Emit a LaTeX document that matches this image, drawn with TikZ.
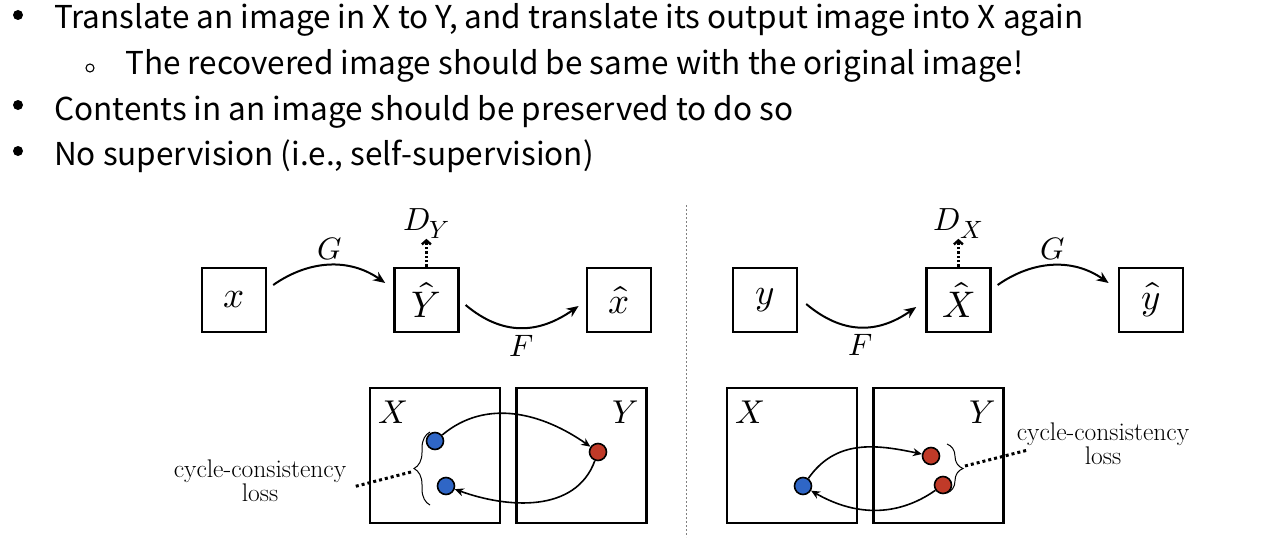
\documentclass[tikz,border=0pt]{standalone}
\usepackage{unicode-math}
\newfontfamily\slidefont{Noto Sans CJK KR}
\usetikzlibrary{arrows.meta,positioning,decorations.pathreplacing}
\newcommand{\discsub}[1]{D_{\mbox{\fontsize{25}{25}\selectfont$#1$}}}

\begin{document}
\begin{tikzpicture}[x=1pt, y=1pt,
  node distance=126pt,
  itemtxt/.style={anchor=base west, inner sep=0pt, font=\slidefont\fontsize{31.5}{31.5}\selectfont},
  bul/.style={circle, fill, inner sep=0pt, minimum size=10pt},
  subbul/.style={circle, draw, line width=1.1pt, inner sep=0pt, minimum size=8pt},
  imgbox/.style={rectangle, draw, line width=2.4pt, minimum size=64pt, inner sep=0pt, font=\fontsize{37}{37}\selectfont},
  dombox/.style={rectangle, draw, line width=2.4pt, minimum width=130pt, minimum height=135pt, inner sep=0pt},
  domlbl/.style={inner sep=0pt, font=\fontsize{33}{33}\selectfont},
  maplbl/.style={font=\fontsize{31}{31}\selectfont},
  dlbl/.style={inner sep=0pt, font=\fontsize{32}{32}\selectfont},
  map/.style={-{Stealth[length=12pt, width=10pt]}, line width=2pt},
  disc/.style={-{Straight Barb[length=4pt, width=9pt]}, line width=2.4pt, dash pattern=on 2.4pt off 2pt},
  cyc/.style={-{Stealth[length=9pt, width=8pt]}, line width=1.6pt},
  bluedot/.style={circle, draw, line width=1.6pt, fill=dotblue, minimum size=17pt, inner sep=0pt},
  reddot/.style={circle, draw, line width=1.6pt, fill=dotred, minimum size=17pt, inner sep=0pt},
  lossbrace/.style={decorate, decoration={brace, amplitude=16pt}, line width=1pt},
  losslink/.style={line width=3pt, dash pattern=on 3pt off 3pt},
  losstxt/.style={align=center, inner sep=0pt, font=\fontsize{25.5}{24}\selectfont}
]
\definecolor{dotblue}{RGB}{47,102,198}
\definecolor{dotred}{RGB}{192,58,40}
\useasboundingbox (0,0) rectangle (1280,-543);

% bullet list
\node[bul] (bul1) at (18,-15) {};
\node[itemtxt] (txt1) at (54,-29) {Translate an image in X to Y, and translate its output image into X again};
\node[subbul] (bul2) at (90,-68) {};
\node[itemtxt] (txt2) at (125,-74.5) {The recovered image should be same with the original image!};
\node[bul] (bul3) at (18,-105) {};
\node[itemtxt] (txt3) at (54,-120) {Contents in an image should be preserved to do so};
\node[bul] (bul4) at (18,-151) {};
\node[itemtxt] (txt4) at (54,-165.5) {No supervision (i.e., self-supervision)};

% left: x -> Y -> x
\node[imgbox] (xin) at (234,-300) {$x$};
\node[imgbox, right=of xin] (yhat) {$\hat{Y}$};
\node[imgbox, right=of yhat] (xrec) {$\hat{x}$};
\node[dlbl, above=28pt of yhat] (dy) {$\discsub{Y}$};

\draw[map] ([xshift=6pt, yshift=15pt]xin.east) to[out=35, in=145]
  node[maplbl, above=1pt] (gl) {$G$} ([xshift=-8pt, yshift=17pt]yhat.west);
\draw[map] ([xshift=6pt, yshift=-5pt]yhat.east) to[out=-40, in=-145, looseness=1.1]
  node[maplbl, below=3pt] (fl) {$F$} ([xshift=-7pt, yshift=-6pt]xrec.west);
\draw[disc] (yhat) -- (dy);

% right: y -> X -> y
\node[imgbox] (yin) at (765,-300) {$y$};
\node[imgbox, right=127pt of yin] (xhat) {$\hat{X}$};
\node[imgbox, right=of xhat] (yrec) {$\hat{y}$};
\node[dlbl, above=28pt of xhat] (dx) {$\discsub{X}$};

\draw[map] ([xshift=8pt, yshift=-4pt]yin.east) to[out=-40, in=-145, looseness=1.1]
  node[maplbl, below=3pt] (fr) {$F$} ([xshift=-9pt, yshift=-7pt]xhat.west);
\draw[map] ([xshift=6pt, yshift=15pt]xhat.east) to[out=35, in=145]
  node[maplbl, above=1pt] (gr) {$G$} ([xshift=-9pt, yshift=17pt]yrec.west);
\draw[disc] (xhat) -- (dx);

% separator
\draw[gray, line width=1pt, dash pattern=on 2pt off 2pt] (686,-205) -- (686,-537);

% left domains
\node[dombox] (domxl) at (435,-455.5) {};
\node[dombox, right=14pt of domxl] (domyl) {};
\node[domlbl, below right=14pt and 9pt of domxl.north west] {$X$};
\node[domlbl, below left=14pt and 9pt of domyl.north east] {$Y$};
\node[bluedot] (bl1) at (435,-441) {};
\node[bluedot] (bl2) at (446,-486) {};
\node[reddot] (rl) at (598,-452) {};
\draw[cyc] (bl1) to[out=40, in=145] (rl);
\draw[cyc] (rl) to[out=-110, in=-20] (bl2);
\draw[lossbrace] (430,-505) -- (430,-432);
\coordinate (tipl) at (411,-472);
\coordinate (endl) at (353,-487);
\draw[losslink] (tipl) -- (endl);
\node[losstxt] (lossl) at (260,-481) {cycle-consistency\\loss};

% right domains
\node[dombox] (domxr) at (792,-455.5) {};
\node[dombox, right=14pt of domxr] (domyr) {};
\node[domlbl, below right=14pt and 9pt of domxr.north west] {$X$};
\node[domlbl, below left=14pt and 9pt of domyr.north east] {$Y$};
\node[bluedot] (br) at (803,-486) {};
\node[reddot] (rr1) at (931,-456) {};
\node[reddot] (rr2) at (943,-485) {};
\draw[cyc] (br) to[out=55, in=168, looseness=1.05] (rr1);
\draw[cyc] (rr2) to[out=-145, in=-30] (br);
\draw[lossbrace] (947,-444) -- (947,-493);
\coordinate (tipr) at (965,-466);
\coordinate (endr) at (1028,-450);
\draw[losslink] (tipr) -- (endr);
\node[losstxt] (lossr) at (1103,-444) {cycle-consistency\\loss};
\end{tikzpicture}
\end{document}
